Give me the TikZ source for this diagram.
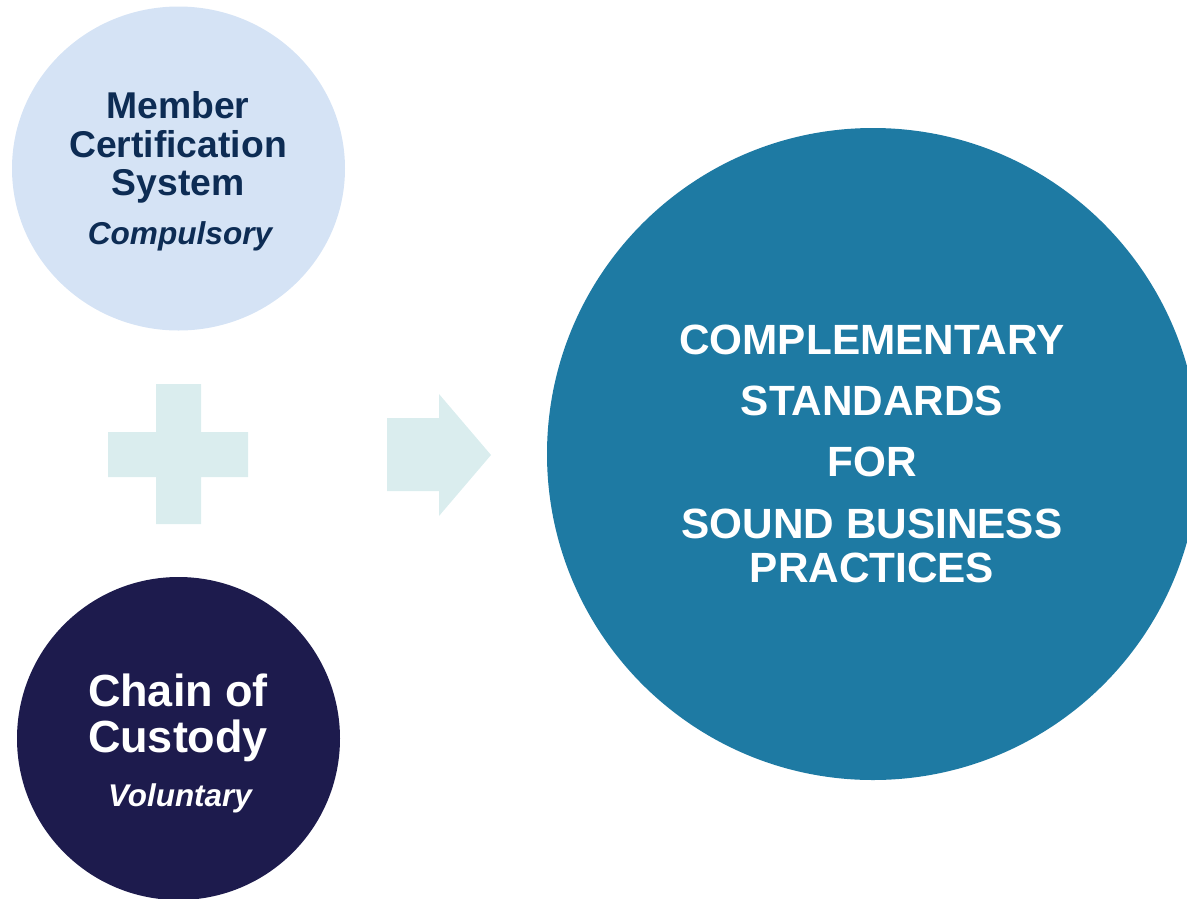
\documentclass[tikz,border=0pt]{standalone}
\usepackage{fontspec}
\setmainfont{Liberation Sans}
\usetikzlibrary{shapes.geometric}
\definecolor{lightcirc}{HTML}{D5E3F5}
\definecolor{darkcirc}{HTML}{1D1B4D}
\definecolor{bigcirc}{HTML}{1E7AA3}
\definecolor{symfill}{HTML}{DAEDEE}
\definecolor{navytext}{HTML}{0D2C54}
\tikzset{
  blob/.style={ellipse, draw=none, inner sep=0pt},
  linetext/.style={anchor=base, inner sep=0pt, font=\bfseries},
}
\begin{document}
\begin{tikzpicture}[x=1pt,y=-1pt]
\useasboundingbox (0,0) rectangle (1187,898);
% circles
\node[blob, fill=lightcirc, minimum width=333pt, minimum height=324pt] (top) at (178.5,168.5) {};
\node[blob, fill=darkcirc, minimum width=323pt, minimum height=323pt] (bottom) at (178.5,738.5) {};
\node[blob, fill=bigcirc, minimum width=652pt, minimum height=652pt] (big) at (873,454) {};
% plus sign
\fill[symfill] (108,432) -- (156,432) -- (156,384) -- (201,384) -- (201,432) -- (248,432)
  -- (248,477) -- (201,477) -- (201,524) -- (156,524) -- (156,477) -- (108,477) -- cycle;
% arrow
\fill[symfill] (387,418) -- (439,418) -- (439,394) -- (491,455) -- (439,516) -- (439,491) -- (387,491) -- cycle;
% top texts
\node[linetext, text=navytext, font=\bfseries\fontsize{37.3}{38}\selectfont] (t1) at (178,118) {Member};
\node[linetext, text=navytext, font=\bfseries\fontsize{37.3}{38}\selectfont] (t2) at (178,157) {Certification};
\node[linetext, text=navytext, font=\bfseries\fontsize{37.3}{38}\selectfont] (t3) at (178,195) {System};
\node[linetext, text=navytext, font=\bfseries\itshape\fontsize{31.6}{32}\selectfont] (t4) at (180,244) {Compulsory};
% bottom texts
\node[linetext, text=white, font=\bfseries\fontsize{45}{46}\selectfont] (b1) at (178,706) {Chain of};
\node[linetext, text=white, font=\bfseries\fontsize{45}{46}\selectfont] (b2) at (178,752) {Custody};
\node[linetext, text=white, font=\bfseries\itshape\fontsize{31.4}{32}\selectfont] (b3) at (180,806) {Voluntary};
% big texts
\node[linetext, text=white, font=\bfseries\fontsize{42.3}{43}\selectfont] (c1) at (872,354) {COMPLEMENTARY};
\node[linetext, text=white, font=\bfseries\fontsize{42.3}{43}\selectfont] (c2) at (872,415) {STANDARDS};
\node[linetext, text=white, font=\bfseries\fontsize{42.3}{43}\selectfont] (c3) at (872,476) {FOR};
\node[linetext, text=white, font=\bfseries\fontsize{42.3}{43}\selectfont] (c4) at (872,538) {SOUND BUSINESS};
\node[linetext, text=white, font=\bfseries\fontsize{42.3}{43}\selectfont] (c5) at (872,582) {PRACTICES};
\end{tikzpicture}
\end{document}
